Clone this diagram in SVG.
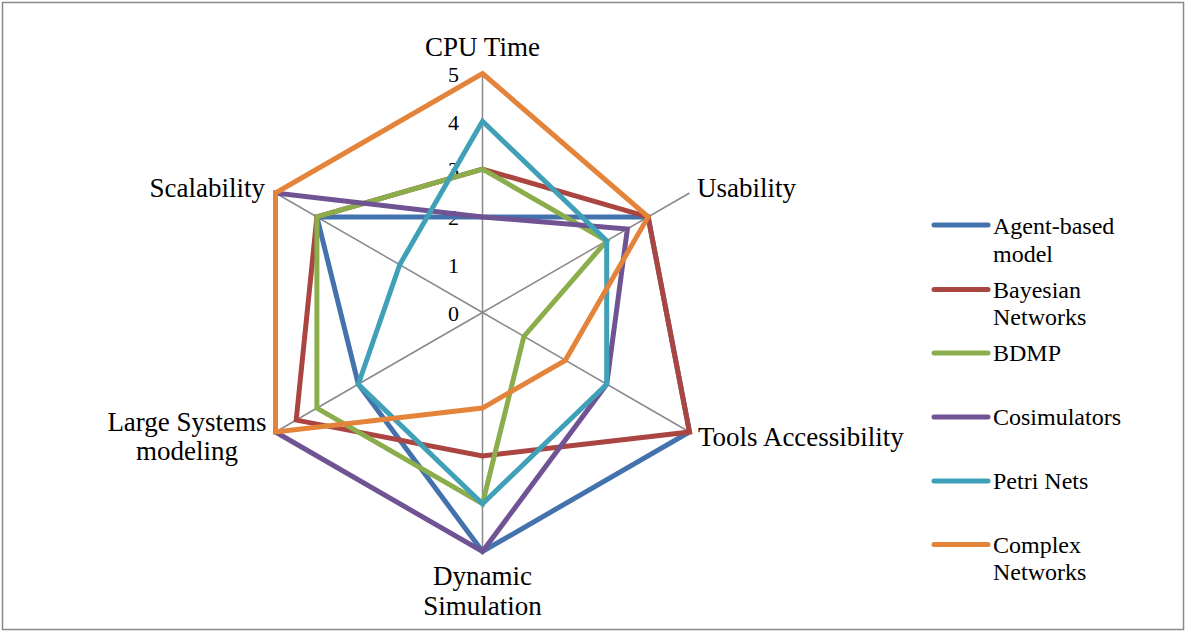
<svg xmlns="http://www.w3.org/2000/svg" width="1186" height="632" viewBox="0 0 1186 632" font-family="'Liberation Serif', 'DejaVu Serif', serif">
<style>
text{font-family:'Liberation Serif','DejaVu Serif',serif;fill:#000}
.ax{font-size:27px}
.tk{font-size:22px;text-anchor:end}
.lg{font-size:24px}
.sp{stroke:#898989;stroke-width:1.5;fill:none}
.s{fill:none;stroke-width:5;stroke-linejoin:miter;stroke-miterlimit:10}
.l{stroke-width:5;stroke-linecap:round}
.c1{stroke:#4472AD}.c2{stroke:#AA4541}.c3{stroke:#8CAD4B}.c4{stroke:#6F5393}.c5{stroke:#40A0B8}.c6{stroke:#E4843A}
</style>
<rect x="2.5" y="2.5" width="1181" height="627" fill="#fff" stroke="#898989" stroke-width="1.5"/>
<g id="grid">
<line class="sp" x1="482.5" y1="312.5" x2="482.5" y2="73.5"/>
<line class="sp" x1="482.5" y1="312.5" x2="689.5" y2="193"/>
<line class="sp" x1="482.5" y1="312.5" x2="689.5" y2="432"/>
<line class="sp" x1="482.5" y1="312.5" x2="482.5" y2="551.5"/>
<line class="sp" x1="482.5" y1="312.5" x2="275.5" y2="432"/>
<line class="sp" x1="482.5" y1="312.5" x2="275.5" y2="193"/>
</g>
<g id="ticks">
<text class="tk" x="459" y="82">5</text>
<text class="tk" x="459" y="130">4</text>
<text class="tk" x="459" y="177">3</text>
<text class="tk" x="459" y="225">2</text>
<text class="tk" x="459" y="273">1</text>
<text class="tk" x="459" y="321">0</text>
</g>
<g id="series">
<polygon id="agent-based" class="s c1" points="482.5,216.9 648.1,216.9 689.5,432 482.5,551.5 358.3,384.2 316.9,216.9"/>
<polygon id="bayesian" class="s c2" points="482.5,169.1 648.1,216.9 689.5,432 482.5,455.9 296.2,420.1 316.9,216.9"/>
<polygon id="bdmp" class="s c3" points="482.5,169.1 606.7,240.8 523.9,336.4 482.5,503.7 316.9,408.1 316.9,216.9"/>
<polygon id="cosimulators" class="s c4" points="482.5,216.9 627.4,228.9 606.7,384.2 482.5,551.5 275.5,432 275.5,193"/>
<polygon id="petri-nets" class="s c5" points="482.5,121.3 606.7,240.8 606.7,384.2 482.5,503.7 358.3,384.2 399.7,264.7"/>
<polygon id="complex-networks" class="s c6" points="482.5,73.5 648.1,216.9 565.3,360.3 482.5,408.1 275.5,432 275.5,193"/>
</g>
<g id="axis-labels">
<text class="ax" x="482.5" y="56" text-anchor="middle">CPU Time</text>
<text class="ax" x="697" y="197">Usability</text>
<text class="ax" x="698" y="446">Tools Accessibility</text>
<text class="ax" x="482.5" y="585" text-anchor="middle">Dynamic</text>
<text class="ax" x="482.5" y="615" text-anchor="middle">Simulation</text>
<text class="ax" x="187" y="431" text-anchor="middle">Large Systems</text>
<text class="ax" x="187" y="460" text-anchor="middle">modeling</text>
<text class="ax" x="265" y="197" text-anchor="end">Scalability</text>
</g>
<g id="legend">
<line class="l c1" x1="934" y1="225" x2="988" y2="225"/>
<text class="lg" x="993" y="234">Agent-based</text>
<text class="lg" x="993" y="262">model</text>
<line class="l c2" x1="934" y1="289.5" x2="988" y2="289.5"/>
<text class="lg" x="993" y="298">Bayesian</text>
<text class="lg" x="993" y="325">Networks</text>
<line class="l c3" x1="934" y1="353" x2="988" y2="353"/>
<text class="lg" x="993" y="361">BDMP</text>
<line class="l c4" x1="934" y1="417" x2="988" y2="417"/>
<text class="lg" x="993" y="425">Cosimulators</text>
<line class="l c5" x1="934" y1="481" x2="988" y2="481"/>
<text class="lg" x="993" y="489">Petri Nets</text>
<line class="l c6" x1="934" y1="544.5" x2="988" y2="544.5"/>
<text class="lg" x="993" y="553">Complex</text>
<text class="lg" x="993" y="580">Networks</text>
</g>
</svg>
